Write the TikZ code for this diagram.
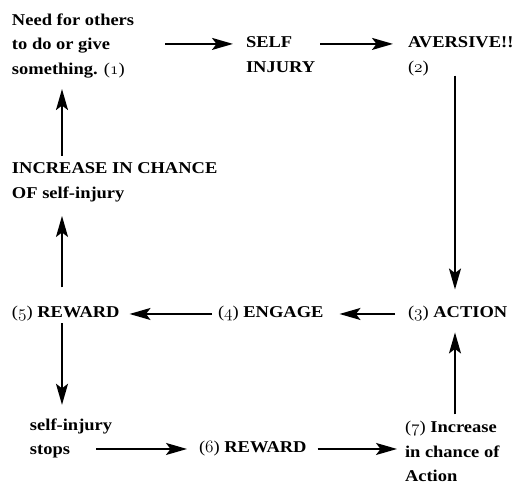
\documentclass[tikz,border=0pt]{standalone}
\usepackage{fontspec}
\setmainfont{Liberation Serif}[FakeStretch=1.12]
\usetikzlibrary{arrows.meta}
\newcommand{\nlabel}[1]{{\mdseries({\usefont{OML}{cmm}{m}{it}#1})}}
\begin{document}
\begin{tikzpicture}[x=1pt,y=-1pt,
  lbl/.style={anchor=north west, inner sep=0pt, outer sep=0pt, align=left,
              font=\fontsize{16.5}{24.5}\selectfont\bfseries},
  arr/.style={-{Stealth[length=21pt,width=12pt,inset=4.5pt]}, line width=1.8pt}]
\useasboundingbox (0,0) rectangle (520,486);

\node[lbl] (n1)    at (12,13.8)   {Need for others\\to do or give\\something. \nlabel{1}};
\node[lbl] (self)  at (246,37)    {SELF\\INJURY};
\node[lbl] (avers) at (408,36.6)  {AVERSIVE!!\\\nlabel{2}};
\node[lbl] (incr)  at (12,163)    {INCREASE IN CHANCE\\OF self-injury};
\node[lbl] (rew5)  at (12,306.5)  {\nlabel{5} REWARD};
\node[lbl] (eng)   at (218,306.5) {\nlabel{4} ENGAGE};
\node[lbl] (act)   at (408,306.5) {\nlabel{3} ACTION};
\node[lbl] (sis)   at (30,418.8)  {self-injury\\stops};
\node[lbl] (rew6)  at (199,441.5) {\nlabel{6} REWARD};
\node[lbl] (inc7)  at (405,421.5) {\nlabel{7} Increase\\in chance of\\Action};

\coordinate (colL) at (62,0);
\coordinate (colR) at (455,0);

\draw[arr, shorten <=31pt, shorten >=13pt] ([yshift=2pt]n1.east) -- ([yshift=2pt]n1.east -| self.west);
\draw[arr, shorten <=5pt, shorten >=15pt] ([yshift=2pt]n1.east -| self.east) -- ([yshift=2pt]n1.east -| avers.west);
\draw[arr, shorten >=17pt] (avers.south -| colR) -- (act.north -| colR);
\draw[arr, shorten <=7pt, shorten >=11pt] (inc7.north -| colR) -- (act.south -| colR);
\draw[arr, shorten <=13pt, shorten >=16pt] (act.west) -- (eng.east);
\draw[arr, shorten <=6pt, shorten >=10pt] (eng.west) -- (rew5.east);
\draw[arr, shorten <=19pt, shorten >=14pt] (rew5.north -| colL) -- (incr.south -| colL);
\draw[arr, shorten <=7pt, shorten >=11pt] (incr.north -| colL) -- (n1.south -| colL);
\draw[arr, shorten <=2pt, shorten >=14pt] (rew5.south -| colL) -- (sis.north -| colL);
\draw[arr, shorten >=12pt] ([xshift=66pt]sis.west |- rew6.west) -- (rew6.west);
\draw[arr, shorten <=11pt, shorten >=8pt] (rew6.east) -- (rew6.east -| inc7.west);
\end{tikzpicture}
\end{document}
